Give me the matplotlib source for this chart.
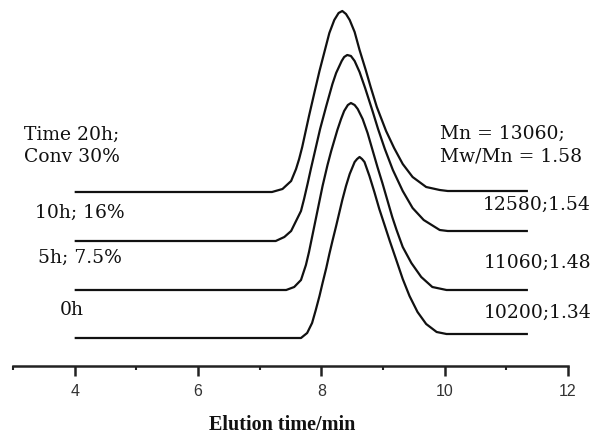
import matplotlib
matplotlib.use("Agg")
import matplotlib.pyplot as plt
from matplotlib.ticker import MultipleLocator

# ---- data (elution time in min, detector signal in arbitrary units) ----
x_0h = [4.0, 7.67, 7.77, 7.85, 7.91, 7.97, 8.02, 8.08, 8.13, 8.18, 8.24, 8.29, 8.34, 8.40,
        8.46, 8.54, 8.58, 8.62, 8.66, 8.70, 8.78, 8.86, 8.94, 9.02, 9.11, 9.21, 9.32, 9.43,
        9.56, 9.70, 9.87, 10.03, 11.35]
y_0h = [0, 0, 5, 15, 28, 42, 55, 70, 84, 97, 112, 125, 138, 152,
        164, 176, 179, 181, 179, 176, 162, 146, 129, 114, 97, 79, 59, 42,
        26, 14, 6, 4, 4]

x_5h = [4.0, 7.43, 7.56, 7.67, 7.75, 7.80, 7.85, 7.91, 7.97, 8.02, 8.10, 8.16, 8.26, 8.32,
        8.37, 8.43, 8.48, 8.54, 8.59, 8.67, 8.75, 8.83, 8.91, 8.99, 9.07, 9.15, 9.22, 9.32,
        9.46, 9.62, 9.80, 10.03, 11.35]
y_5h = [0, 0, 3, 10, 25, 38, 53, 71, 89, 104, 125, 139, 160, 171,
        179, 185, 187, 185, 181, 171, 157, 140, 123, 107, 90, 73, 60, 43,
        27, 13, 3, 0, 0]

x_10h = [4.0, 7.26, 7.40, 7.51, 7.59, 7.67, 7.72, 7.78, 7.83, 7.89, 7.98, 8.08, 8.13, 8.18,
         8.24, 8.33, 8.37, 8.42, 8.48, 8.54, 8.62, 8.71, 8.83, 8.92, 9.03, 9.16, 9.32, 9.48,
         9.66, 9.92, 10.05, 11.35]
y_10h = [0, 0, 4, 10, 20, 30, 42, 58, 72, 88, 112, 135, 146, 157,
         168, 180, 184, 186, 185, 180, 169, 153, 130, 112, 92, 71, 50, 33,
         21, 11, 10, 10]

x_20h = [4.0, 7.20, 7.37, 7.51, 7.59, 7.64, 7.69, 7.80, 7.89, 7.97, 8.05, 8.13, 8.21, 8.28,
         8.34, 8.40, 8.46, 8.54, 8.62, 8.72, 8.80, 8.90, 9.05, 9.18, 9.32, 9.48, 9.70, 9.92,
         10.05, 11.35]
y_20h = [0, 0, 3, 11, 23, 33, 45, 76, 100, 121, 140, 159, 172, 179,
         181, 178, 172, 160, 142, 122, 105, 85, 61, 44, 28, 15, 5, 2,
         1, 1]

left_labels = ["0h", "5h; 7.5%", "10h; 16%", "Time 20h;\nConv 30%"]
right_labels = ["10200;1.34", "11060;1.48", "12580;1.54", "Mn = 13060;\nMw/Mn = 1.58"]
xlabel = "Elution time/min"
xticks = [4, 6, 8, 10, 12]

# ---- figure ----
W, H = 593, 435
fig = plt.figure(figsize=(W / 100, H / 100), dpi=100)
ax = fig.add_axes([13 / W, (H - 367) / H, 555 / W, 367 / H])

offsets = [0, 48, 97, 146]
curves = [(x_0h, y_0h), (x_5h, y_5h), (x_10h, y_10h), (x_20h, y_20h)]
for (xs, ys), off in zip(curves, offsets):
    ax.plot(xs, [v + off for v in ys], color="#111111", lw=1.6,
            solid_joinstyle="round", solid_capstyle="butt")

ax.set_xlim(3, 12)
ax.set_ylim(-28, 339)
for s in ["left", "right", "top"]:
    ax.spines[s].set_visible(False)
ax.spines["bottom"].set_linewidth(1.8)
ax.spines["bottom"].set_color("#222222")
ax.set_yticks([])
ax.set_xticks(xticks)
ax.xaxis.set_minor_locator(MultipleLocator(1))
ax.tick_params(axis="x", which="major", direction="out", length=7, width=1.8,
               color="#222222", pad=5, labelsize=11.5, labelcolor="#333333")
ax.tick_params(axis="x", which="minor", direction="out", length=3, width=1.5,
               color="#222222")
for lab in ax.get_xticklabels():
    lab.set_fontfamily("Liberation Sans")

serif = "DejaVu Serif"
tkw = dict(fontfamily=serif, fontsize=13.5, color="#111111", clip_on=False)

def px_to_x(px):
    return 4 + (px - 76) / 61.5

# left annotations (y relative to 0h baseline)
ax.text(px_to_x(61), 29, left_labels[0], ha="left", va="center", **tkw)
ax.text(px_to_x(39), 81, left_labels[1], ha="left", va="center", **tkw)
ax.text(px_to_x(36), 126, left_labels[2], ha="left", va="center", **tkw)
ax.text(px_to_x(25), 193, left_labels[3], ha="left", va="center",
        linespacing=1.3, **tkw)

# right annotations
xr = px_to_x(591)
ax.text(xr, 26, right_labels[0], ha="right", va="center", **tkw)
ax.text(xr, 76, right_labels[1], ha="right", va="center", **tkw)
ax.text(xr, 134, right_labels[2], ha="right", va="center", **tkw)
ax.text(px_to_x(440), 194, right_labels[3], ha="left", va="center",
        linespacing=1.3, **tkw)

ax.set_xlabel(xlabel, fontfamily="Liberation Serif", fontsize=14.5, fontweight="bold",
              color="#111111")
ax.xaxis.label.set_va("center")
ax.xaxis.set_label_coords((282 - 13) / 555, -(425 - 367) / 367)

fig.savefig("out.png", dpi=100)
